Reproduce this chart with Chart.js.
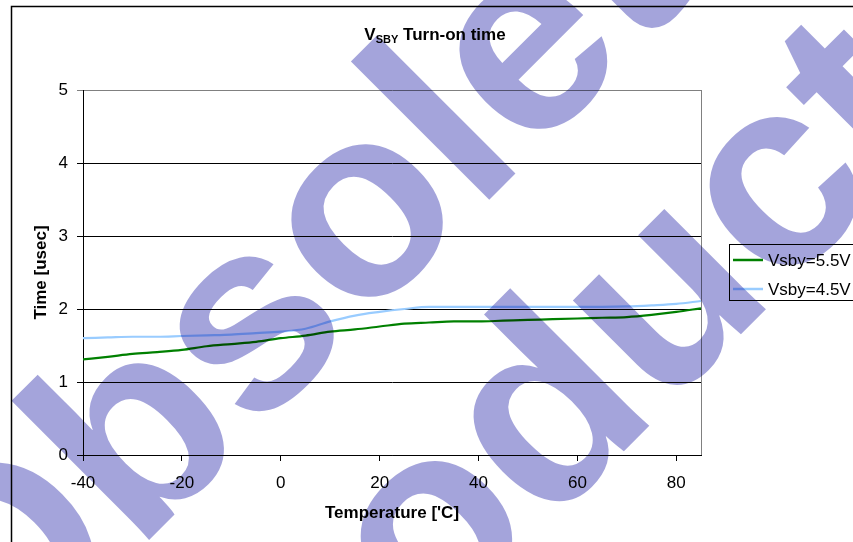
<!DOCTYPE html>
<html>
<head>
<meta charset="utf-8">
<script src="https://cdn.jsdelivr.net/npm/chart.js@4"></script>
<style>
  html, body { margin: 0; padding: 0; background: #fff; }
  canvas { display: block; }
</style>
</head>
<body>
<canvas id="chart" width="853" height="542"></canvas>
<script>
// values
const temps = [-40, -35, -30, -25, -20, -15, -10, -5, 0, 5, 10, 15, 20, 25, 30, 35, 40, 45, 50, 55, 60, 65, 70, 75, 80, 85];
const vsby55 = [1.31, 1.345, 1.385, 1.41, 1.44, 1.49, 1.52, 1.55, 1.60, 1.635, 1.69, 1.72, 1.76, 1.80, 1.815, 1.83, 1.83, 1.84, 1.85, 1.86, 1.87, 1.88, 1.89, 1.92, 1.96, 2.01];
const vsby45 = [1.60, 1.61, 1.62, 1.62, 1.63, 1.64, 1.65, 1.67, 1.69, 1.73, 1.83, 1.91, 1.96, 2.00, 2.03, 2.03, 2.03, 2.03, 2.03, 2.03, 2.03, 2.03, 2.035, 2.05, 2.07, 2.11];
const seriesLabels = ['Vsby=5.5V', 'Vsby=4.5V'];
const xTicks = [-40, -20, 0, 20, 40, 60, 80];
const yTicks = [0, 1, 2, 3, 4, 5];
const titleParts = ['V', 'SBY', ' Turn-on time'];
const xTitle = "Temperature ['C]";
const yTitle = 'Time [usec]';
const stamp = ['Obsolete', 'Product'];

const FONT = "'Liberation Sans', Arial, Helvetica, sans-serif";

const toPts = ys => temps.map((t, i) => ({ x: t, y: ys[i] }));

// white page + outer frame
const framePlugin = {
    id: 'frame',
    beforeDraw(chart) {
        const c = chart.ctx;
        c.save();
        c.fillStyle = '#fff';
        c.fillRect(0, 0, chart.width, chart.height);
        c.strokeStyle = '#000';
        c.lineWidth = 1.5;
        c.beginPath();
        c.moveTo(11.5, chart.height);
        c.lineTo(11.5, 6.5);
        c.lineTo(chart.width, 6.5);
        c.stroke();
        c.restore();
    }
};

// grey right edge of the plot area
const plotEdge = {
    id: 'plotEdge',
    beforeDatasetsDraw(chart) {
        const { ctx: c, chartArea: a } = chart;
        c.save();
        c.strokeStyle = '#808080';
        c.lineWidth = 1;
        c.beginPath();
        c.moveTo(a.right + 0.5, a.top);
        c.lineTo(a.right + 0.5, a.bottom);
        c.stroke();
        c.restore();
    }
};

// title with subscript
const titlePlugin = {
    id: 'subTitle',
    afterDraw(chart) {
        const c = chart.ctx;
        c.save();
        c.fillStyle = '#000';
        c.textBaseline = 'alphabetic';
        const big = `bold 17px ${FONT}`, small = `bold 11px ${FONT}`;
        c.font = big;
        const w0 = c.measureText(titleParts[0]).width;
        const w2 = c.measureText(titleParts[2]).width;
        c.font = small;
        const w1 = c.measureText(titleParts[1]).width;
        let x = 435 - (w0 + w1 + w2) / 2;
        const y = 40;
        c.font = big;
        c.fillText(titleParts[0], x, y);
        x += w0;
        c.font = small;
        c.fillText(titleParts[1], x, y + 3);
        x += w1;
        c.font = big;
        c.fillText(titleParts[2], x, y);
        c.restore();
    }
};

// boxed legend on the right
const legendPlugin = {
    id: 'boxLegend',
    afterDraw(chart) {
        const c = chart.ctx;
        c.save();
        c.strokeStyle = '#000';
        c.lineWidth = 1;
        c.strokeRect(729.5, 244.5, 140, 56);
        c.font = `17px ${FONT}`;
        c.textBaseline = 'middle';
        chart.data.datasets.forEach((ds, i) => {
            const y = 260 + i * 29;
            c.strokeStyle = ds.borderColor;
            c.lineWidth = 2.5;
            c.beginPath();
            c.moveTo(733, y);
            c.lineTo(763, y);
            c.stroke();
            c.fillStyle = '#000';
            c.fillText(ds.label, 768, y + 1);
        });
        c.restore();
    }
};

// diagonal stamp drawn over everything
const stampPlugin = {
    id: 'stamp',
    afterDraw(chart) {
        const c = chart.ctx;
        c.save();
        c.globalCompositeOperation = 'multiply';
        c.fillStyle = 'rgb(164,164,219)';
        c.font = `bold 270px ${FONT}`;
        c.textBaseline = 'alphabetic';
        c.translate(-12, 701);
        c.rotate(-Math.PI / 4);
        c.fillText(stamp[0], 0, 0);
        c.fillText(stamp[1], 65, 273);
        c.restore();
    }
};

const ctx = document.getElementById('chart').getContext('2d');

new Chart(ctx, {
    type: 'line',
    data: {
        datasets: [{
            label: seriesLabels[0],
            data: toPts(vsby55),
            borderColor: '#008000',
            borderWidth: 2.2,
            pointRadius: 0,
            cubicInterpolationMode: 'monotone'
        }, {
            label: seriesLabels[1],
            data: toPts(vsby45),
            borderColor: '#99ccff',
            borderWidth: 2.2,
            pointRadius: 0,
            cubicInterpolationMode: 'monotone'
        }]
    },
    options: {
        responsive: false,
        animation: false,
        events: [],
        layout: { padding: { left: 20, top: 90, right: 152, bottom: 0 } },
        scales: {
            x: {
                type: 'linear',
                min: -40,
                max: 85,
                afterBuildTicks: s => { s.ticks = xTicks.map(v => ({ value: v })); },
                afterFit: s => { s.height = 87; },
                grid: { drawOnChartArea: false, tickLength: 6, color: '#000' },
                border: { color: '#000', width: 1 },
                ticks: { color: '#000', font: { family: FONT, size: 17 }, padding: 12, maxRotation: 0 },
                title: {
                    display: true, text: xTitle, color: '#000',
                    font: { family: FONT, size: 17, weight: 'bold' },
                    padding: { top: 0, bottom: 18 }
                }
            },
            y: {
                min: 0,
                max: 5,
                afterBuildTicks: s => { s.ticks = yTicks.map(v => ({ value: v })); },
                afterFit: s => { s.width = 63; },
                grid: {
                    tickLength: 6,
                    color: c => (c.tick && c.tick.value === 5 ? '#808080' : '#000')
                },
                border: { color: '#000', width: 1 },
                ticks: { color: '#000', font: { family: FONT, size: 17 }, padding: 9 },
                title: {
                    display: true, text: yTitle, color: '#000',
                    font: { family: FONT, size: 17, weight: 'bold' },
                    padding: { top: 11, bottom: 0 }
                }
            }
        },
        plugins: {
            legend: { display: false },
            title: { display: false },
            tooltip: { enabled: false }
        }
    },
    plugins: [framePlugin, plotEdge, titlePlugin, legendPlugin, stampPlugin]
});
</script>
</body>
</html>
